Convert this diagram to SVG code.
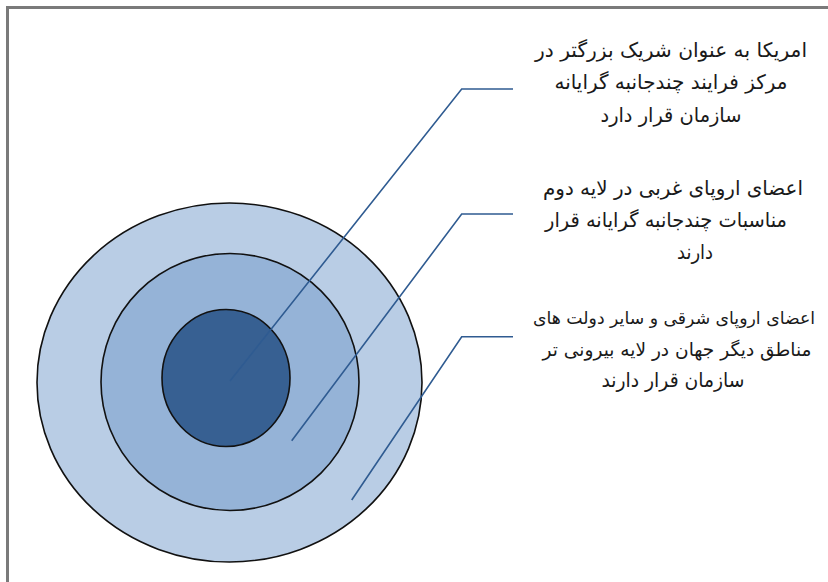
<svg xmlns="http://www.w3.org/2000/svg" width="828" height="582" viewBox="0 0 828 582">
<style>
.ring{stroke:#111;stroke-width:1.6}
.conn{fill:none;stroke:#2F5B91;stroke-width:1.6;stroke-linejoin:miter}
.lbl{font-family:"DejaVu Sans",sans-serif;font-size:20px;fill:#1a1a1a;text-anchor:middle;direction:rtl}
.sm{font-size:18.5px}
.xs{font-size:17px}
</style>
<rect x="0" y="0" width="828" height="582" fill="#ffffff"/>
<path d="M7.5,582 V7.5 H828" fill="none" stroke="#7a7a7a" stroke-width="3"/>
<g id="outer"><ellipse class="ring" cx="229.5" cy="382.5" rx="192.5" ry="179.5" fill="#B9CDE5"/></g>
<g id="middle"><ellipse class="ring" cx="230" cy="382" rx="129" ry="128.5" fill="#95B3D7"/></g>
<g id="inner"><ellipse class="ring" cx="226" cy="378" rx="64" ry="68.5" fill="#376092"/></g>
<g id="connectors">
<polyline class="conn" points="230,381 461.7,89 513,89"/>
<polyline class="conn" points="291.7,440.7 461.7,214 513,214"/>
<polyline class="conn" points="351.7,500 461.7,336.7 513,336.7"/>
</g>
<g id="label1">
<text class="lbl" x="671" y="57" textLength="272" lengthAdjust="spacingAndGlyphs">امریکا به عنوان شریک بزرگتر در</text>
<text class="lbl" x="671" y="89" textLength="233" lengthAdjust="spacingAndGlyphs">مرکز فرایند چندجانبه گرایانه</text>
<text class="lbl" x="671" y="122" textLength="141" lengthAdjust="spacingAndGlyphs">سازمان قرار دارد</text>
</g>
<g id="label2">
<text class="lbl" x="673" y="195" textLength="260" lengthAdjust="spacingAndGlyphs">اعضای اروپای غربی در لایه دوم</text>
<text class="lbl" x="666" y="227" textLength="242" lengthAdjust="spacingAndGlyphs">مناسبات چندجانبه گرایانه قرار</text>
<text class="lbl" x="695" y="259" textLength="36" lengthAdjust="spacingAndGlyphs">دارند</text>
</g>
<g id="label3">
<text class="lbl xs" x="674" y="324" textLength="282" lengthAdjust="spacingAndGlyphs">اعضای اروپای شرقی و سایر دولت های</text>
<text class="lbl sm" x="677" y="356" textLength="269" lengthAdjust="spacingAndGlyphs">مناطق دیگر جهان در لایه بیرونی تر</text>
<text class="lbl" x="673" y="387" textLength="143" lengthAdjust="spacingAndGlyphs">سازمان قرار دارند</text>
</g>
</svg>
